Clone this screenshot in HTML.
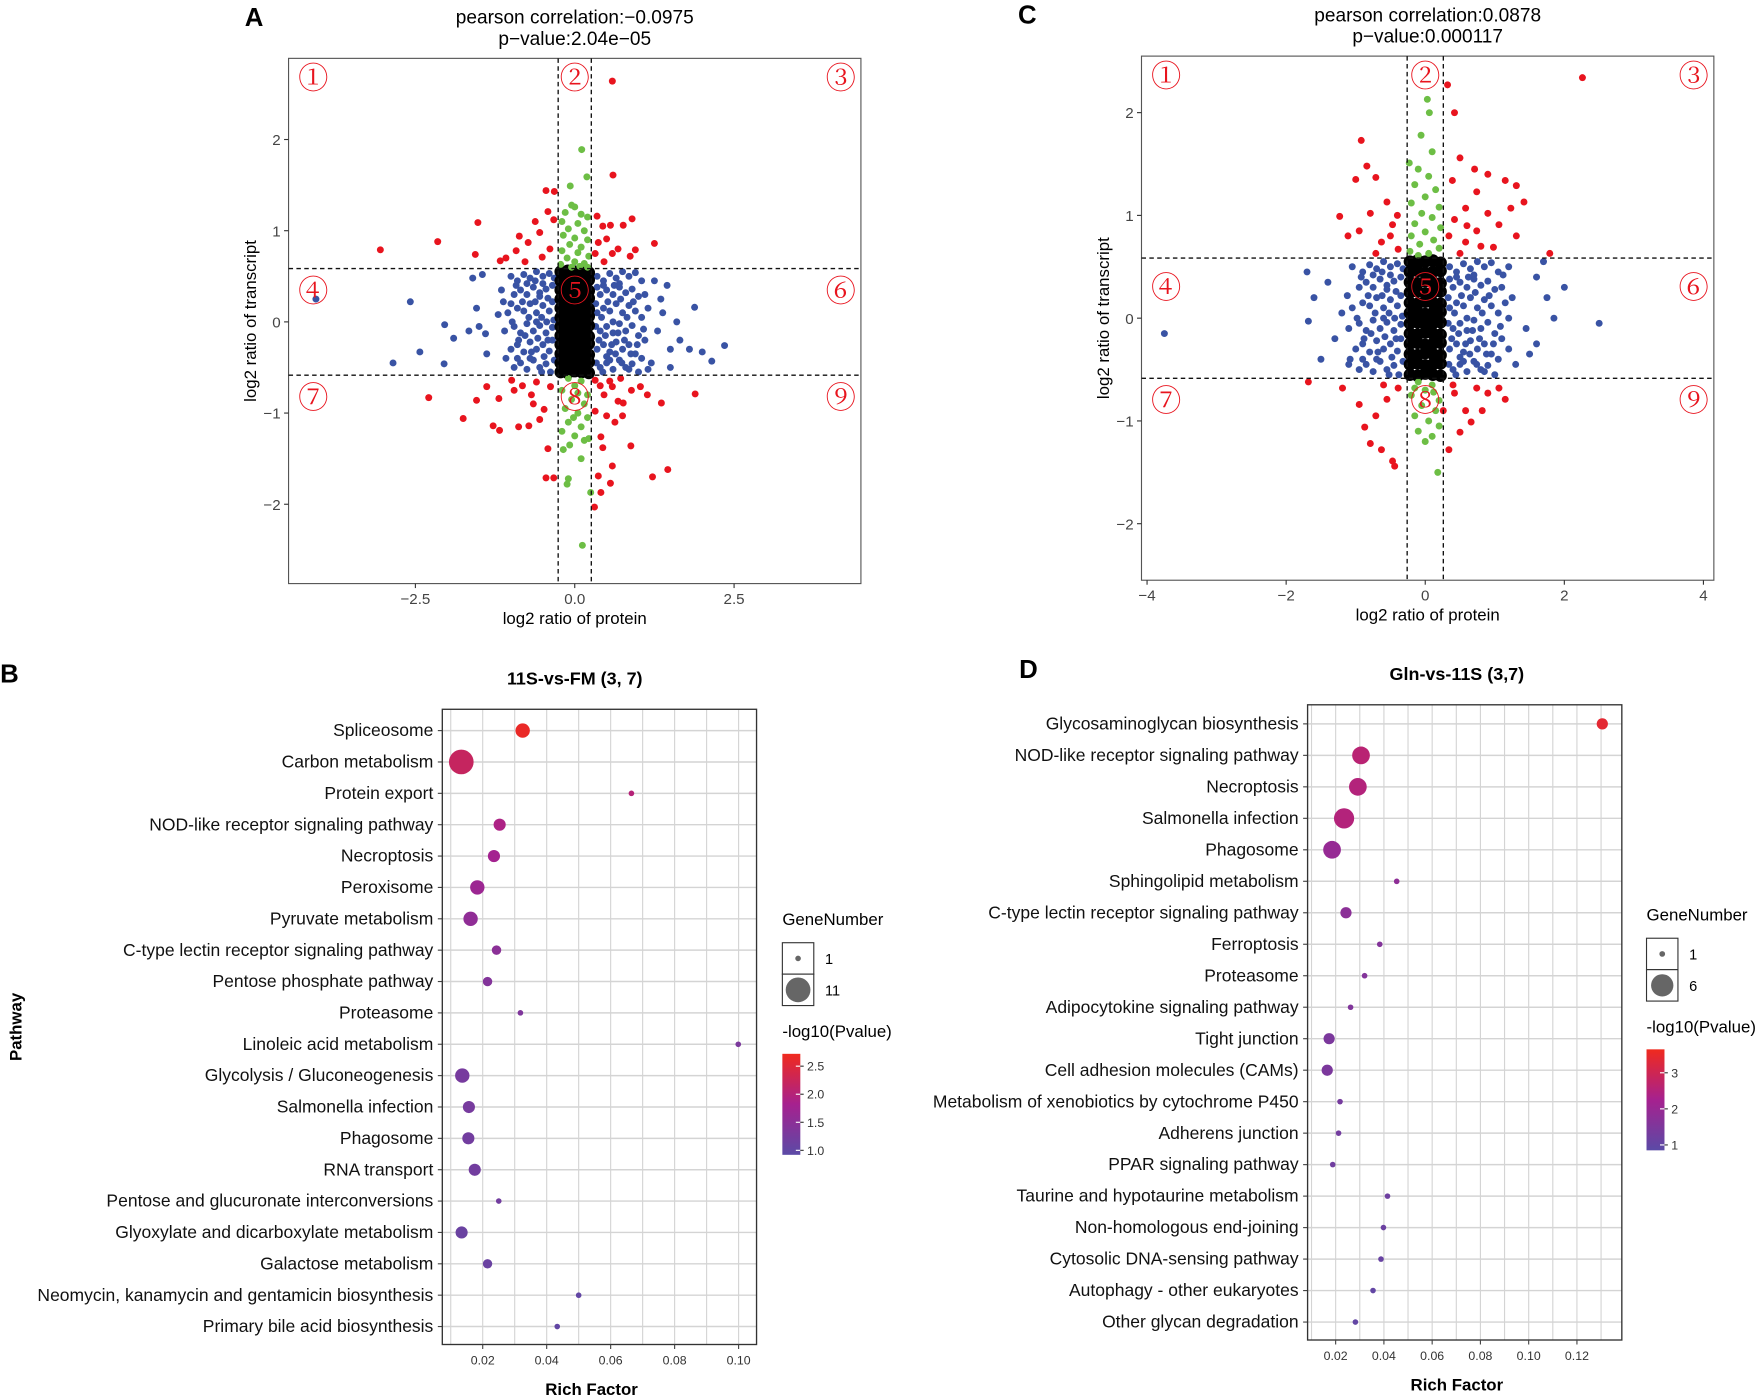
<!DOCTYPE html>
<html><head><meta charset="utf-8"><style>
html,body{margin:0;padding:0;background:#fff}
svg{display:block}
text{font-family:"Liberation Sans",Arial,sans-serif}
</style></head><body>
<svg id="fig" width="1760" height="1395" viewBox="0 0 1568 1243" xmlns="http://www.w3.org/2000/svg">
<defs>
<linearGradient id="cbar" x1="0" y1="1" x2="0" y2="0">
<stop offset="0" stop-color="#5b4aa6"/><stop offset="0.5" stop-color="#a6218f"/><stop offset="1" stop-color="#f02a1e"/>
</linearGradient>
</defs>
<g id="root"></g>
</svg>
<script>
// ===== Panel A data (log2 protein, log2 transcript) =====
const aRed = [[-3.05,0.79],[-2.15,0.88],[-1.52,1.09],[-1.56,0.74],[-1.17,0.67],[-1.08,0.70],[-0.92,0.78],[-0.87,0.94],[-0.73,0.87],[-0.62,1.10],[-0.55,0.98],[-0.45,1.44],[-0.32,1.43],[-0.42,1.21],[-0.33,1.12],[-0.78,0.66],[-0.51,0.71],[-0.39,0.80],[0.59,2.64],[0.60,1.61],[0.35,1.16],[0.44,1.05],[0.56,1.06],[0.76,1.06],[0.90,1.13],[1.25,0.86],[0.95,0.79],[0.68,0.80],[0.59,0.75],[0.46,0.66],[0.37,0.87],[0.87,0.72],[0.32,0.75],[0.50,0.91],
[-2.29,-0.83],[-1.75,-1.06],[-1.54,-0.86],[-1.38,-0.71],[-1.19,-0.84],[-1.28,-1.14],[-1.18,-1.19],[-0.99,-0.64],[-0.95,-0.75],[-0.88,-1.15],[-0.72,-1.14],[-0.68,-0.80],[-0.55,-1.07],[-0.42,-1.39],[-0.45,-1.71],[-0.33,-1.71],[-0.48,-0.96],[-0.38,-0.71],[-0.60,-0.66],[0.32,-0.64],[0.46,-0.80],[0.59,-0.71],[0.72,-0.62],[0.76,-0.89],[0.89,-0.75],[1.03,-0.71],[1.14,-0.80],[1.36,-0.89],[1.89,-0.79],[0.75,-1.03],[0.63,-1.10],[0.41,-1.26],[0.44,-1.38],[0.88,-1.36],[0.59,-1.58],[0.37,-1.69],[0.56,-1.77],[0.41,-1.87],[0.31,-2.03],[1.22,-1.70],[1.46,-1.62],[0.32,-0.98],[0.50,-1.03],[0.68,-0.87],[-0.82,-0.70],[-0.65,-0.90],[0.40,-0.70],[0.55,-0.65]];
const aGreen = [[0.11,1.89],[0.19,1.59],[-0.07,1.49],[-0.05,1.28],[0.0,1.26],[-0.15,1.2],[0.1,1.18],[0.2,1.15],[-0.2,1.1],[0.05,1.08],[-0.1,1.02],[0.15,1.0],[-0.18,0.95],[0.0,0.92],[0.2,0.9],[-0.08,0.85],[0.1,0.82],[-0.2,0.78],[0.05,0.76],[0.22,0.72],[-0.12,0.7],[0.0,0.66],[0.15,0.64],[-0.22,0.63],[0.08,0.61],[-0.05,0.6],[0.2,0.6],
[-0.1,-0.62],[0.1,-0.65],[0.0,-0.7],[-0.2,-0.75],[0.2,-0.8],[-0.05,-0.85],[0.15,-0.9],[-0.15,-0.95],[0.05,-1.0],[0.2,-1.05],[-0.1,-1.1],[0.1,-1.15],[-0.2,-1.2],[0.0,-1.25],[0.15,-1.3],[-0.08,-1.35],[-0.18,-1.4],[0.1,-1.5],[-0.1,-1.72],[-0.12,-1.78],[0.25,-1.87],[0.12,-2.45],[0.22,-1.28],[-0.02,-1.05],[0.05,-0.78]];
const aBlue = [[-4.06,0.25],[-2.58,0.22],[-2.04,-0.03],[-1.9,-0.18],[-2.43,-0.33],[-2.85,-0.45],[-2.05,-0.46],[-1.66,-0.1],[-1.6,0.48],[-1.45,0.52],[-1.54,0.15],[-1.38,-0.35],[-1.5,-0.05],[-1.4,-0.13],[-1.2,0.08],[-1.15,0.35],[-1.0,0.2],[1.35,0.25],[1.45,0.4],[1.6,0.0],[1.88,0.16],[1.65,-0.2],[1.8,-0.3],[2.0,-0.33],[2.15,-0.43],[2.35,-0.26],[1.5,-0.5],[1.2,-0.45],[1.5,-0.3],[1.25,0.45],[1.38,0.1],[1.3,-0.1],
[-1.0,0.5],[-0.9,0.45],[-0.8,0.52],[-0.7,0.48],[-0.6,0.55],[-0.5,0.5],[-0.4,0.53],[-0.95,0.3],[-0.85,0.35],[-0.75,0.3],[-0.65,0.38],[-0.55,0.32],[-0.45,0.36],[-0.35,0.4],[-1.05,0.1],[-0.9,0.15],[-0.8,0.12],[-0.7,0.2],[-0.6,0.1],[-0.5,0.18],[-0.4,0.12],[-0.35,0.22],[-1.1,-0.1],[-0.95,-0.05],[-0.85,-0.12],[-0.75,-0.02],[-0.65,-0.1],[-0.55,-0.04],[-0.45,-0.12],[-0.35,-0.06],[-1.0,-0.3],[-0.9,-0.25],[-0.8,-0.33],[-0.7,-0.22],[-0.6,-0.3],[-0.5,-0.25],[-0.4,-0.32],[-0.35,-0.2],[-0.95,-0.5],[-0.85,-0.45],[-0.75,-0.52],[-0.65,-0.42],[-0.55,-0.5],[-0.45,-0.46],[-0.38,-0.55],[-0.6,0.0],[-0.7,-0.4],[-0.5,0.42],
[-0.92,0.4],[-0.82,0.22],[-0.72,0.05],[-0.62,0.22],[-0.52,0.05],[-0.42,0.26],[-0.32,0.48],[-0.88,-0.2],[-0.78,-0.15],[-0.68,-0.33],[-0.58,-0.18],[-0.48,-0.38],[-0.32,-0.42],[-0.42,-0.2],[-0.98,0.0],[-1.08,-0.4],[-1.12,0.22],[-0.9,-0.4],[-0.62,0.45],[-0.75,0.42],[-0.52,-0.55],[-0.33,0.02],[-0.44,0.0],[-0.55,0.28],
[0.35,0.5],[0.45,0.45],[0.55,0.53],[0.65,0.48],[0.75,0.55],[0.85,0.5],[0.95,0.54],[1.05,0.45],[0.4,0.3],[0.5,0.35],[0.6,0.3],[0.7,0.38],[0.8,0.32],[0.9,0.36],[1.0,0.28],[1.1,0.3],[0.35,0.1],[0.45,0.15],[0.55,0.12],[0.65,0.2],[0.75,0.1],[0.85,0.18],[0.95,0.12],[1.05,0.05],[0.4,-0.1],[0.5,-0.05],[0.6,-0.12],[0.7,-0.02],[0.8,-0.1],[0.9,-0.04],[1.0,-0.15],[1.1,-0.2],[0.35,-0.3],[0.45,-0.25],[0.55,-0.33],[0.65,-0.22],[0.75,-0.3],[0.85,-0.25],[0.95,-0.35],[1.05,-0.4],[0.4,-0.5],[0.5,-0.45],[0.6,-0.52],[0.7,-0.42],[0.8,-0.5],[0.9,-0.46],[1.0,-0.55],[1.15,-0.52],[0.6,0.0],[0.7,0.42],[0.5,-0.38],[0.35,0.38],
[0.33,0.2],[0.42,0.05],[0.52,0.22],[0.62,0.4],[0.72,0.25],[0.82,0.05],[0.92,0.22],[0.38,-0.2],[0.48,-0.15],[0.58,-0.25],[0.68,-0.12],[0.78,-0.2],[0.88,-0.35],[0.98,-0.25],[0.34,-0.45],[0.44,-0.55],[0.55,-0.42],[0.64,-0.35],[0.74,-0.45],[1.08,-0.08],[1.15,0.15],[0.33,-0.05],[0.45,0.4],[0.85,-0.52]];
const aBlack = [[-0.22,0.55],[-0.11,0.56],[0,0.55],[0.11,0.56],[0.22,0.54],[-0.22,0.45],[-0.11,0.46],[0,0.44],[0.11,0.45],[0.22,0.46],[-0.22,0.35],[-0.11,0.34],[0,0.36],[0.11,0.35],[0.22,0.34],[-0.22,0.25],[-0.11,0.26],[0,0.24],[0.11,0.25],[0.22,0.26],[-0.22,0.15],[-0.11,0.14],[0,0.16],[0.11,0.15],[0.22,0.14],[-0.22,0.05],[-0.11,0.06],[0,0.04],[0.11,0.05],[0.22,0.06],[-0.22,-0.05],[-0.11,-0.04],[0,-0.06],[0.11,-0.05],[0.22,-0.04],[-0.22,-0.15],[-0.11,-0.16],[0,-0.14],[0.11,-0.15],[0.22,-0.16],[-0.22,-0.25],[-0.11,-0.24],[0,-0.26],[0.11,-0.25],[0.22,-0.24],[-0.22,-0.35],[-0.11,-0.36],[0,-0.34],[0.11,-0.35],[0.22,-0.36],[-0.22,-0.45],[-0.11,-0.44],[0,-0.46],[0.11,-0.45],[0.22,-0.44],[-0.22,-0.55],[-0.11,-0.56],[0,-0.54],[0.11,-0.55],[0.22,-0.56]];
const aXTicks = [-2.5, 0.0, 2.5];
const aXTickLabels = ["\u22122.5","0.0","2.5"];
const aYTicks = [-2, -1, 0, 1, 2];
const aYTickLabels = ["\u22122","\u22121","0","1","2"];

// ===== Panel C data =====
const cRed = [[2.26,2.34],[-0.92,1.73],[-0.84,1.48],[-1.0,1.35],[-0.71,1.37],[-1.23,0.99],[-1.11,0.8],[-0.95,0.85],[-0.79,1.02],[-0.55,1.13],[-0.63,0.74],[-0.47,0.91],[-0.71,0.63],[-0.39,0.67],[0.32,2.27],[0.42,2.0],[0.5,1.56],[0.39,1.34],[0.71,1.45],[0.9,1.4],[1.15,1.34],[1.31,1.29],[1.42,1.13],[0.74,1.23],[0.58,1.07],[0.9,1.02],[1.23,1.07],[0.42,0.96],[0.74,0.85],[1.06,0.91],[0.58,0.74],[0.34,0.8],[0.5,0.63],[1.79,0.63],[0.98,0.69],[1.31,0.8],[-0.5,0.8],[-0.4,1.0],[0.6,0.9],[0.8,0.7],
[-1.68,-0.62],[-1.19,-0.68],[-0.95,-0.84],[-0.87,-1.06],[-0.71,-0.95],[-0.55,-0.79],[-0.79,-1.22],[-0.47,-1.39],[-0.44,-1.44],[-0.63,-1.28],[-0.39,-0.68],[0.42,-0.73],[0.58,-0.9],[0.74,-0.68],[0.9,-0.73],[1.06,-0.68],[0.5,-1.11],[0.34,-1.28],[0.66,-1.01],[0.82,-0.9],[0.26,-0.9],[1.15,-0.79],[-0.6,-0.65],[0.4,-0.65]];
const cGreen = [[0.03,2.13],[0.06,2.0],[-0.06,1.78],[-0.23,1.51],[0.1,1.62],[-0.1,1.45],[0.05,1.38],[-0.15,1.3],[0.15,1.25],[0.0,1.18],[-0.2,1.12],[0.2,1.08],[-0.05,1.02],[0.1,0.98],[-0.15,0.92],[0.22,0.88],[0.0,0.84],[-0.2,0.8],[0.12,0.76],[-0.08,0.72],[0.2,0.68],[-0.22,0.65],[0.05,0.63],[-0.1,0.61],
[-0.1,-0.62],[0.1,-0.65],[0.0,-0.7],[-0.2,-0.75],[0.2,-0.8],[-0.05,-0.85],[0.15,-0.9],[-0.15,-0.95],[0.05,-1.0],[0.2,-1.05],[-0.1,-1.1],[0.1,-1.15],[0.0,-1.2],[0.18,-1.5],[-0.15,-0.68],[0.12,-0.72]];
const cBlue = [[-3.75,-0.15],[-1.68,-0.03],[-1.6,0.2],[-1.4,0.35],[-1.5,-0.4],[-1.3,-0.2],[-1.2,0.05],[1.6,0.4],[1.75,0.2],[1.85,0.0],[2.0,0.3],[2.5,-0.05],[1.5,-0.35],[1.6,-0.25],[1.7,0.55],[-1.7,0.45],[-1.1,-0.45],[1.45,-0.1],
[-1.05,0.5],[-0.9,0.45],[-0.8,0.52],[-0.7,0.48],[-0.6,0.55],[-0.5,0.5],[-0.4,0.53],[-0.95,0.3],[-0.85,0.35],[-0.75,0.3],[-0.65,0.38],[-0.55,0.32],[-0.45,0.36],[-0.35,0.4],[-1.05,0.1],[-0.9,0.15],[-0.8,0.12],[-0.7,0.2],[-0.6,0.1],[-0.5,0.18],[-0.4,0.12],[-0.35,0.22],[-1.1,-0.1],[-0.95,-0.05],[-0.85,-0.12],[-0.75,-0.02],[-0.65,-0.1],[-0.55,-0.04],[-0.45,-0.12],[-0.35,-0.06],[-1.0,-0.3],[-0.9,-0.25],[-0.8,-0.33],[-0.7,-0.22],[-0.6,-0.3],[-0.5,-0.25],[-0.4,-0.32],[-0.35,-0.2],[-0.95,-0.5],[-0.85,-0.45],[-0.75,-0.52],[-0.65,-0.42],[-0.55,-0.5],[-0.45,-0.46],[-0.38,-0.55],[-0.6,0.0],[-0.7,-0.4],[-0.5,0.42],
[-0.92,0.4],[-0.82,0.22],[-0.72,0.05],[-0.62,0.22],[-0.52,0.05],[-0.42,0.26],[-0.32,0.48],[-0.88,-0.2],[-0.78,-0.15],[-0.68,-0.33],[-0.58,-0.18],[-0.48,-0.38],[-0.32,-0.42],[-0.42,-0.2],[-0.98,0.0],[-1.08,-0.4],[-1.12,0.22],[-0.9,-0.4],[-0.62,0.45],[-0.75,0.42],[-0.52,-0.55],[-0.33,0.02],[-0.44,0.0],[-0.55,0.28],
[0.35,0.5],[0.45,0.45],[0.55,0.53],[0.65,0.48],[0.75,0.55],[0.85,0.5],[0.95,0.54],[1.05,0.45],[1.2,0.5],[0.4,0.3],[0.5,0.35],[0.6,0.3],[0.7,0.38],[0.8,0.32],[0.9,0.36],[1.0,0.28],[1.1,0.3],[1.25,0.2],[0.35,0.1],[0.45,0.15],[0.55,0.12],[0.65,0.2],[0.75,0.1],[0.85,0.18],[0.95,0.12],[1.05,0.05],[1.2,0.0],[0.4,-0.1],[0.5,-0.05],[0.6,-0.12],[0.7,-0.02],[0.8,-0.1],[0.9,-0.04],[1.0,-0.15],[1.1,-0.2],[0.35,-0.3],[0.45,-0.25],[0.55,-0.33],[0.65,-0.22],[0.75,-0.3],[0.85,-0.25],[0.95,-0.35],[1.05,-0.4],[1.2,-0.3],[0.4,-0.5],[0.5,-0.45],[0.6,-0.52],[0.7,-0.42],[0.8,-0.5],[0.9,-0.46],[1.0,-0.55],[0.6,0.0],[0.7,0.42],[0.5,-0.38],[0.35,0.38],
[0.33,0.2],[0.42,0.05],[0.52,0.22],[0.62,0.4],[0.72,0.25],[0.82,0.05],[0.92,0.22],[0.38,-0.2],[0.48,-0.15],[0.58,-0.25],[0.68,-0.12],[0.78,-0.2],[0.88,-0.35],[0.98,-0.25],[0.34,-0.45],[0.44,-0.55],[0.55,-0.42],[0.64,-0.35],[0.74,-0.45],[1.08,-0.08],[1.15,0.15],[0.33,-0.05],[0.45,0.4],[0.85,-0.52],[1.12,0.42],[1.3,-0.45]];
const cBlack = aBlack.map(p => [p[0], p[1]]);
const cXTicks = [-4, -2, 0, 2, 4];
const cXTickLabels = ["\u22124","\u22122","0","2","4"];
const cYTicks = [-2, -1, 0, 1, 2];
const cYTickLabels = ["\u22122","\u22121","0","1","2"];

// ===== Panel B data =====
const bPathways = ["Spliceosome","Carbon metabolism","Protein export","NOD-like receptor signaling pathway","Necroptosis","Peroxisome","Pyruvate metabolism","C-type lectin receptor signaling pathway","Pentose phosphate pathway","Proteasome","Linoleic acid metabolism","Glycolysis / Gluconeogenesis","Salmonella infection","Phagosome","RNA transport","Pentose and glucuronate interconversions","Glyoxylate and dicarboxylate metabolism","Galactose metabolism","Neomycin, kanamycin and gentamicin biosynthesis","Primary bile acid biosynthesis"];
const bRich = [0.0325,0.0133,0.0665,0.0253,0.0235,0.0183,0.0162,0.0243,0.0215,0.0318,0.0999,0.0136,0.0157,0.0155,0.0175,0.025,0.0134,0.0215,0.050,0.0433];
const bGenes = [4,11,1,3,3,4,4,2,2,1,1,4,3,3,3,1,3,2,1,1];
const bLogP = [2.65,2.2,2.0,1.9,1.8,1.7,1.55,1.5,1.4,1.35,1.3,1.25,1.25,1.2,1.2,1.2,1.1,1.1,1.0,1.0];
const bXTicks = [0.02,0.04,0.06,0.08,0.10];
const bXTickLabels = ["0.02","0.04","0.06","0.08","0.10"];
const bCbarTicks = [1.0,1.5,2.0,2.5];
const bCbarLabels = ["1.0","1.5","2.0","2.5"];

// ===== Panel D data =====
const dPathways = ["Glycosaminoglycan biosynthesis","NOD-like receptor signaling pathway","Necroptosis","Salmonella infection","Phagosome","Sphingolipid metabolism","C-type lectin receptor signaling pathway","Ferroptosis","Proteasome","Adipocytokine signaling pathway","Tight junction","Cell adhesion molecules (CAMs)","Metabolism of xenobiotics by cytochrome P450","Adherens junction","PPAR signaling pathway","Taurine and hypotaurine metabolism","Non-homologous end-joining","Cytosolic DNA-sensing pathway","Autophagy - other eukaryotes","Other glycan degradation"];
const dRich = [0.1305,0.0305,0.0292,0.0235,0.0185,0.0453,0.0243,0.0383,0.0320,0.0262,0.0173,0.0165,0.0218,0.0212,0.0188,0.0415,0.0398,0.0388,0.0355,0.0282];
const dGenes = [2,4,4,5,4,1,2,1,1,1,2,2,1,1,1,1,1,1,1,1];
const dLogP = [3.4,2.6,2.5,2.5,1.95,1.8,1.75,1.6,1.6,1.55,1.45,1.45,1.35,1.3,1.25,1.2,1.15,1.1,1.0,1.0];
const dXTicks = [0.02,0.04,0.06,0.08,0.10,0.12];
const dXTickLabels = ["0.02","0.04","0.06","0.08","0.10","0.12"];
const dCbarTicks = [1,2,3];
const dCbarLabels = ["1","2","3"];

const NS = "http://www.w3.org/2000/svg";
const root = document.getElementById('root');
function mk(tag, attrs, parent, txt){
  const e = document.createElementNS(NS, tag);
  for (const k in attrs) e.setAttribute(k, attrs[k]);
  if (txt !== undefined) e.textContent = txt;
  (parent||root).appendChild(e);
  return e;
}
function lin(d0,d1,r0,r1){ return v => r0 + (v-d0)*(r1-r0)/(d1-d0); }

function scatterPanel(o){
  const g = mk('g', {});
  
  
  const sx = lin(o.xd[0], o.xd[1], o.x0, o.x1);
  const sy = lin(o.yd[0], o.yd[1], o.y1, o.y0);
  const fr = mk('rect', {x:o.x0, y:o.y0, width:o.x1-o.x0, height:o.y1-o.y0, fill:'#fff', stroke:'#555', 'stroke-width':1}, g);
  
  
  const clip = mk('g', {}, g);
  const layers = [[o.blue,'#3953a4','blue-points'],[o.black,'#000','black-points'],[o.red,'#e8141e','red-points'],[o.green,'#6dbe45','green-points']];
  layers.forEach(L => {
    const lg = mk('g', {fill:L[1]}, clip);
    
    
    L[0].forEach(p => {
      const c = mk('circle', {cx:sx(p[0]).toFixed(1), cy:sy(p[1]).toFixed(1), r: L[1]==='#000'?5.6:3.1}, lg);
      
      
    });
  });
  const th = [[sx(-o.px),o.y0,sx(-o.px),o.y1],[sx(o.px),o.y0,sx(o.px),o.y1],[o.x0,sy(o.ty),o.x1,sy(o.ty)],[o.x0,sy(-o.ty),o.x1,sy(-o.ty)]];
  th.forEach(t => {
    const l = mk('line', {x1:t[0],y1:t[1],x2:t[2],y2:t[3],stroke:'#111','stroke-width':1.2,'stroke-dasharray':'4,3'}, g);
    
    
  });
  const nums = ['\u2460','\u2461','\u2462','\u2463','\u2464','\u2465','\u2466','\u2467','\u2468'];
  const cols = [o.x0+22, (sx(-o.px)+sx(o.px))/2, o.x1-18];
  const rows = [o.y0+18, (sy(o.ty)+sy(-o.ty))/2-27+ (o.midAdj||0), sy(-o.ty)+20];
  for (let i=0;i<9;i++){
    const t = mk('text', {x:cols[i%3], y:rows[Math.floor(i/3)]+9, 'text-anchor':'middle', 'font-size':27, fill:'#e8141e', style:'font-family:"Liberation Serif","Noto Serif CJK SC",serif'}, g, nums[i]);
    
    
  }
  o.xt.forEach((v,i) => {
    const x = sx(v);
    mk('line', {x1:x,y1:o.y1,x2:x,y2:o.y1+4,stroke:'#333'}, g);
    const t = mk('text', {x:x, y:o.y1+18, 'text-anchor':'middle','font-size':13.5, fill:'#444'}, g, o.xtl[i]);
    
    
  });
  o.yt.forEach((v,i) => {
    const y = sy(v);
    mk('line', {x1:o.x0-4,y1:y,x2:o.x0,y2:y,stroke:'#333'}, g);
    const t = mk('text', {x:o.x0-7, y:y+5, 'text-anchor':'end','font-size':13.5, fill:'#444'}, g, o.ytl[i]);
    
    
  });
  const cx = (o.x0+o.x1)/2;
  let t = mk('text', {x:cx, y:o.y1+36, 'text-anchor':'middle','font-size':15}, g, 'log2 ratio of protein');
   
  const cy = (o.y0+o.y1)/2;
  t = mk('text', {x:0, y:0, transform:`translate(${o.x0-29},${cy}) rotate(-90)`, 'text-anchor':'middle','font-size':15}, g, 'log2 ratio of transcript');
   
  t = mk('text', {x:cx, y:o.y0-31, 'text-anchor':'middle','font-size':17}, g, o.t1);
   
  t = mk('text', {x:cx, y:o.y0-12, 'text-anchor':'middle','font-size':17}, g, o.t2);
   
  t = mk('text', {x:o.letterX, y:o.y0-29, 'font-size':23,'font-weight':'bold'}, g, o.letter);
   
}

scatterPanel({name:'scatter-panel-a', x0:257,x1:767,y0:52,y1:520, xd:[-4.49,4.49], yd:[-2.87,2.89], px:0.26, ty:0.585,
  red:aRed, green:aGreen, blue:aBlue, black:aBlack, xt:aXTicks, xtl:aXTickLabels, yt:aYTicks, ytl:aYTickLabels,
  t1:'pearson correlation:\u22120.0975', t2:'p\u2212value:2.04e\u221205', letter:'A', letterX:218});
scatterPanel({name:'scatter-panel-c', x0:1017,x1:1527,y0:50,y1:517, xd:[-4.08,4.15], yd:[-2.55,2.55], px:0.26, ty:0.585,
  red:cRed, green:cGreen, blue:cBlue, black:cBlack, xt:cXTicks, xtl:cXTickLabels, yt:cYTicks, ytl:cYTickLabels,
  t1:'pearson correlation:0.0878', t2:'p\u2212value:0.000117', letter:'C', letterX:907});

function colorFor(v, lo, hi){
  const t = Math.max(0, Math.min(1, (v-lo)/(hi-lo)));
  const stops = [[0,[91,74,166]],[0.5,[166,33,143]],[1,[240,42,30]]];
  let a = stops[0], b = stops[1];
  if (t > 0.5){ a = stops[1]; b = stops[2]; }
  const u = (t-a[0])/(b[0]-a[0]);
  const c = a[1].map((x,i)=>Math.round(x+(b[1][i]-x)*u));
  return `rgb(${c[0]},${c[1]},${c[2]})`;
}

function bubblePanel(o){
  const g = mk('g', {});
  
  
  const sx = lin(0.02, 0.04, o.xt02, o.xt04);
  const n = o.paths.length;
  const sy = i => o.row0 + i*(o.rowN-o.row0)/(n-1);
  const rr = gn => Math.sqrt(Math.max(4, o.ra + o.rb*gn));
  mk('rect', {x:o.x0,y:o.y0,width:o.x1-o.x0,height:o.y1-o.y0,fill:'#fff'}, g);
  for (let v=0.01; v<=o.xmaxGrid+1e-9; v+=0.01){
    const x = sx(v);
    if (x <= o.x0 || x >= o.x1) continue;
    mk('line', {x1:x,y1:o.y0,x2:x,y2:o.y1,stroke:'#d4d4d4','stroke-width':1}, g);
  }
  o.paths.forEach((p,i) => {
    const y = sy(i);
    mk('line', {x1:o.x0,y1:y,x2:o.x1,y2:y,stroke:'#d4d4d4','stroke-width':1.3}, g);
    mk('line', {x1:o.x0-4,y1:y,x2:o.x0,y2:y,stroke:'#444'}, g);
    const t = mk('text', {x:o.x0-8, y:y+5, 'text-anchor':'end','font-size':15.6, fill:'#111'}, g, p);
    
    
  });
  o.paths.forEach((p,i) => {
    const c = mk('circle', {cx:sx(o.rich[i]).toFixed(1), cy:sy(i).toFixed(1), r:rr(o.genes[i]).toFixed(1), fill:colorFor(o.logp[i], o.clo, o.chi)}, g);
    
    
  });
  const fr = mk('rect', {x:o.x0,y:o.y0,width:o.x1-o.x0,height:o.y1-o.y0,fill:'none',stroke:'#333','stroke-width':1.2}, g);
   
  o.xt.forEach((v,i) => {
    const x = sx(v);
    mk('line', {x1:x,y1:o.y1,x2:x,y2:o.y1+4,stroke:'#444'}, g);
    const t = mk('text', {x:x,y:o.y1+18,'text-anchor':'middle','font-size':11,fill:'#333'}, g, o.xtl[i]);
     
  });
  const cx = (o.x0+o.x1)/2;
  let t = mk('text', {x:o.rfX, y:o.y1+45, 'text-anchor':'middle','font-size':15,'font-weight':'bold'}, g, 'Rich Factor');
   
  t = mk('text', {x:o.titleX, y:o.y0-22, 'text-anchor':'middle','font-size':16,'font-weight':'bold'}, g, o.title);
   
  t = mk('text', {x:o.letterX, y:o.y0-24, 'font-size':23,'font-weight':'bold'}, g, o.letter);
   
  if (o.showPathway){
    t = mk('text', {x:0,y:0,transform:`translate(19,${(o.y0+o.y1)/2}) rotate(-90)`,'text-anchor':'middle','font-size':15,'font-weight':'bold'}, g, 'Pathway');
     
  }
  const L = o.leg;
  const lg = mk('g', {}, g);
  
  
  mk('text', {x:L.x, y:L.y, 'font-size':15}, lg, 'GeneNumber');
  mk('rect', {x:L.x, y:L.y+16, width:28, height:28, fill:'#fff', stroke:'#333'}, lg);
  mk('rect', {x:L.x, y:L.y+44, width:28, height:28, fill:'#fff', stroke:'#333'}, lg);
  mk('circle', {cx:L.x+14, cy:L.y+30, r:rr(1), fill:'#666'}, lg);
  mk('circle', {cx:L.x+14, cy:L.y+58, r:rr(o.gmax), fill:'#666'}, lg);
  mk('text', {x:L.x+38, y:L.y+35, 'font-size':13}, lg, '1');
  mk('text', {x:L.x+38, y:L.y+63, 'font-size':13}, lg, String(o.gmax));
  mk('text', {x:L.x, y:L.y+100, 'font-size':15}, lg, '-log10(Pvalue)');
  const cb0 = L.y+115, cb1 = L.y+205;
  const cs = lin(o.clo, o.chi, cb1, cb0);
  const cbar = mk('rect', {x:L.x, y:cb0, width:16, height:cb1-cb0, fill:'url(#cbar)'}, lg);
   
  o.ct.forEach((v,i) => {
    const y = cs(v);
    mk('line', {x1:L.x+12,y1:y,x2:L.x+16,y2:y,stroke:'#fff'}, lg);
    mk('line', {x1:L.x+16,y1:y,x2:L.x+19,y2:y,stroke:'#333'}, lg);
    mk('text', {x:L.x+22, y:y+4, 'font-size':11, fill:'#333'}, lg, o.ctl[i]);
  });
}

bubblePanel({name:'bubble-panel-b', x0:394,x1:674,y0:632,y1:1198, row0:651,rowN:1182, xt02:430, xt04:487, xmaxGrid:0.10,
  paths:bPathways, rich:bRich, genes:bGenes, logp:bLogP, xt:bXTicks, xtl:bXTickLabels, ra:-5.2, rb:11.5, gmax:11,
  clo:0.92, chi:2.72, ct:bCbarTicks, ctl:bCbarLabels, title:'11S-vs-FM (3, 7)', titleX:512, rfX:527, letter:'B', letterX:0, showPathway:true,
  leg:{x:697, y:824}});
bubblePanel({name:'bubble-panel-d', x0:1165,x1:1445,y0:628,y1:1194, row0:645,rowN:1178, xt02:1190, xt04:1233, xmaxGrid:0.13,
  paths:dPathways, rich:dRich, genes:dGenes, logp:dLogP, xt:dXTicks, xtl:dXTickLabels, ra:-12, rb:18.5, gmax:6,
  clo:0.85, chi:3.65, ct:dCbarTicks, ctl:dCbarLabels, title:'Gln-vs-11S (3,7)', titleX:1298, rfX:1298, letter:'D', letterX:908, showPathway:false,
  leg:{x:1467, y:820}});
</script>
</body></html>
